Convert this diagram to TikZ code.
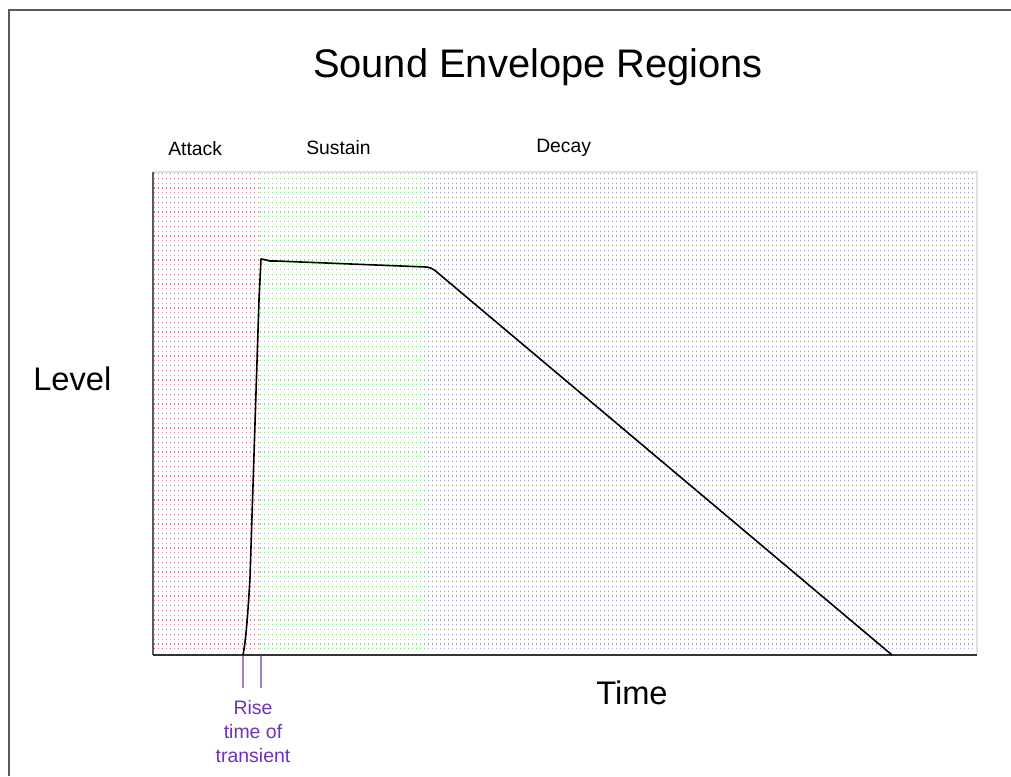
\documentclass[tikz,border=0pt]{standalone}
\usepackage{fontspec}
\setmainfont{Liberation Sans}
\definecolor{framegray}{RGB}{90,90,90}
\definecolor{gridred}{RGB}{200,80,105}
\definecolor{gridgreen}{RGB}{90,210,90}
\definecolor{gridblue}{RGB}{80,80,165}
\definecolor{risepurple}{RGB}{160,125,210}
\definecolor{risetext}{RGB}{112,48,192}
\definecolor{edgegray}{RGB}{225,225,225}
\begin{document}
\begin{tikzpicture}[x=0.75pt,y=-0.75pt,
  gridrow/.style={line width=0.9pt, dash pattern=on 1pt off 2pt, opacity=0.75},
  title/.style={font=\fontsize{29.9}{34}\selectfont, inner sep=0pt, anchor=base},
  axislabel/.style={font=\fontsize{24.5}{28}\selectfont, inner sep=0pt, anchor=base west},
  region/.style={font=\fontsize{14.5}{17}\selectfont, inner sep=0pt, anchor=base west},
  riselabel/.style={font=\fontsize{14.6}{17}\selectfont, text=risetext, inner sep=0pt, anchor=base},
  riseline/.style={draw=risepurple, line width=1.1pt},
  envelope/.style={draw=black, line width=1.2pt, line join=round}]
\useasboundingbox (0,0) rectangle (1011,776);
\fill[white] (0,0) rectangle (1011,776);
% page frame
\draw[framegray, line width=1.2pt] (9,776) -- (9,10) -- (1011,10);
% dotted region grid
\foreach \y in {173.5,178.3,...,653}{
  \draw[gridrow, gridred] (154,\y) -- (260,\y);
  \draw[gridrow, gridgreen] (260,\y) -- (428,\y);
  \draw[gridrow, gridblue, opacity=0.55] (428,\y) -- (977,\y);
}
% plot border and axes
\draw[edgegray, line width=0.8pt] (153,172) -- (977,172) -- (977,655);
\draw[framegray, line width=1.1pt] (153,172) -- (153,655);
\draw[black!80, line width=1.1pt] (153,655) -- (977,655);
% envelope
\draw[envelope] (243,655) .. controls (246,640) and (248,612) .. (250,578) -- (259,300) -- (261,259)
  -- (264,259.5) -- (270,261) -- (276,261) -- (426,267)
  .. controls (430,267.3) and (432,268.5) .. (435,270.5) -- (892,655);
% rise time markers
\coordinate (r1a) at (243,656);
\coordinate (r1b) at (243,688);
\coordinate (r2a) at (261,656);
\coordinate (r2b) at (261,688);
\draw[riseline] (r1a) -- (r1b);
\draw[riseline] (r2a) -- (r2b);
% texts
\node[title] (ttl) at (538,77) {Sound Envelope Regions};
\node[region] (att) at (168,155) {Attack};
\node[region] (sus) at (306,154) {Sustain};
\node[region] (dec) at (536,152) {Decay};
\node[axislabel] (lev) at (33,390) {Level};
\node[axislabel] (tim) at (596,704) {Time};
\node[riselabel] (rise1) at (253,714) {Rise};
\node[riselabel] (rise2) at (253,738) {time of};
\node[riselabel] (rise3) at (253,762) {transient};
\end{tikzpicture}
\end{document}
